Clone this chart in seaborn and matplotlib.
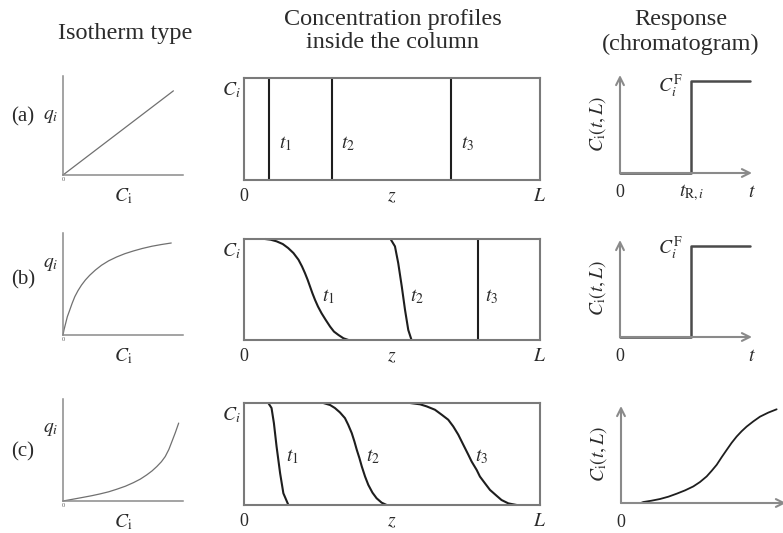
import numpy as np
import pandas as pd
import matplotlib
matplotlib.use("Agg")
import matplotlib.pyplot as plt
import seaborn as sns

# ---- isotherm curves: (C_i, q_i) -------------------------------------------
iso_linear_c = [0.0, 0.92]
iso_linear_q = [0.0, 0.85]
iso_langmuir_c = [0.0, 0.008, 0.022, 0.036, 0.056, 0.076, 0.098, 0.125, 0.154, 0.187, 0.223,
                  0.270, 0.321, 0.380, 0.447, 0.515, 0.587, 0.660, 0.740, 0.820, 0.902]
iso_langmuir_q = [0.0, 0.049, 0.114, 0.179, 0.244, 0.310, 0.375, 0.435, 0.489, 0.540, 0.586,
                  0.637, 0.684, 0.727, 0.765, 0.797, 0.824, 0.848, 0.870, 0.887, 0.902]
iso_anti_c = [0.0, 0.080, 0.168, 0.240, 0.307, 0.380, 0.447, 0.520, 0.587, 0.645, 0.698,
              0.742, 0.782, 0.820, 0.852, 0.882, 0.908, 0.936, 0.964]
iso_anti_q = [0.0, 0.017, 0.036, 0.052, 0.069, 0.090, 0.115, 0.145, 0.180, 0.215, 0.256,
              0.295, 0.338, 0.385, 0.436, 0.505, 0.584, 0.670, 0.764]

# ---- concentration profiles inside the column: (z/L, C_i) -------------------
# (a) linear isotherm: sharp fronts
prof_a_z = [[0.084, 0.084], [0.297, 0.297], [0.699, 0.699]]
prof_a_c = [[0.0, 1.0], [0.0, 1.0], [0.0, 1.0]]
# (b) favourable isotherm: self-sharpening front
prof_b_z = [
    [0.071, 0.090, 0.110, 0.131, 0.149, 0.167, 0.184, 0.196, 0.206, 0.215, 0.223, 0.231,
     0.240, 0.250, 0.262, 0.276, 0.291, 0.304, 0.319, 0.336, 0.353],
    [0.495, 0.510, 0.521, 0.533, 0.544, 0.555, 0.566],
    [0.792, 0.792],
]
prof_b_c = [
    [1.0, 0.993, 0.977, 0.950, 0.911, 0.861, 0.795, 0.728, 0.662, 0.596, 0.530, 0.464,
     0.397, 0.331, 0.265, 0.199, 0.132, 0.083, 0.050, 0.017, 0.0],
    [1.0, 0.927, 0.762, 0.530, 0.298, 0.099, 0.0],
    [1.0, 0.0],
]
# (c) unfavourable isotherm: dispersive front
prof_c_z = [
    [0.082, 0.093, 0.101, 0.110, 0.122, 0.133, 0.150],
    [0.268, 0.291, 0.307, 0.324, 0.341, 0.352, 0.364, 0.373, 0.381, 0.390, 0.398, 0.409,
     0.420, 0.434, 0.448, 0.465, 0.482],
    [0.561, 0.595, 0.617, 0.645, 0.668, 0.690, 0.707, 0.724, 0.741, 0.758, 0.769, 0.786,
     0.797, 0.814, 0.831, 0.854, 0.870, 0.893, 0.921],
]
prof_c_c = [
    [1.0, 0.951, 0.803, 0.574, 0.311, 0.115, 0.0],
    [1.0, 0.980, 0.951, 0.908, 0.852, 0.787, 0.705, 0.623, 0.541, 0.459, 0.377, 0.279,
     0.197, 0.121, 0.066, 0.023, 0.0],
    [1.0, 0.987, 0.967, 0.934, 0.885, 0.836, 0.770, 0.689, 0.590, 0.492, 0.426, 0.344,
     0.279, 0.213, 0.148, 0.089, 0.049, 0.016, 0.0],
]
time_labels = [r"$t_1$", r"$t_2$", r"$t_3$"]

# ---- responses at the column outlet: (t, C_i(t, L)) -------------------------
resp_step_t = [0.0, 0.54, 0.54, 0.985]
resp_step_c = [0.0, 0.0, 0.94, 0.94]
resp_disp_t = [0.15, 0.169, 0.232, 0.295, 0.359, 0.422, 0.485, 0.548, 0.598, 0.649, 0.687,
               0.725, 0.763, 0.801, 0.838, 0.876, 0.914, 0.952, 1.003, 1.053, 1.116, 1.179]
resp_disp_c = [0.0, 0.010, 0.024, 0.041, 0.065, 0.096, 0.130, 0.171, 0.216, 0.274, 0.332,
               0.394, 0.473, 0.548, 0.620, 0.685, 0.740, 0.788, 0.842, 0.890, 0.932, 0.966]

row_tags = ["(a)", "(b)", "(c)"]
col_titles = ["Isotherm type", "Concentration profiles\ninside the column", "Response\n(chromatogram)"]

# ---- style ------------------------------------------------------------------
sns.set_style("white")
plt.rcParams["font.family"] = ["Liberation Serif", "DejaVu Serif"]
plt.rcParams["mathtext.fontset"] = "stix"
plt.rcParams["lines.solid_joinstyle"] = "round"
plt.rcParams["lines.solid_capstyle"] = "round"

W, H = 783, 533
fig = plt.figure(figsize=(W / 100, H / 100), dpi=100)
fig.patch.set_facecolor("white")

TXT = "#2b2b2b"
AX_GREY = "#8a8a8a"
BOX_GREY = "#7a7a7a"
CURVE_DARK = "#1e1e1e"


def px_axes(x0, y0, x1, y1):
    """Axes from pixel box (left, top, right, bottom)."""
    return fig.add_axes([x0 / W, 1 - y1 / H, (x1 - x0) / W, (y1 - y0) / H])


def line(ax, xs, ys, color, lw):
    df = pd.DataFrame({"x": xs, "y": ys})
    sns.lineplot(data=df, x="x", y="y", ax=ax, sort=False, estimator=None,
                 color=color, linewidth=lw, clip_on=False)


def strip(ax):
    ax.set_xlabel("")
    ax.set_ylabel("")
    ax.set_xticks([])
    ax.set_yticks([])
    ax.patch.set_alpha(0)


def below(ax, x, s, dy=-12, size=12):
    ax.annotate(s, xy=(x, 0), xytext=(0, dy), textcoords="offset points",
                ha="center", va="center", fontsize=size, color=TXT)


# column titles
fig.text(125 / W, 1 - 33 / H, col_titles[0], ha="center", va="center", fontsize=17.5, color=TXT)
fig.text(393 / W, 1 - 31 / H, col_titles[1], ha="center", va="center", fontsize=17.5,
         color=TXT, linespacing=1.12)
fig.text(681 / W, 1 - 32 / H, col_titles[2], ha="center", va="center", fontsize=17.5,
         color=TXT, linespacing=1.18)

# row geometry (pixels)
left_rows = [(76, 175), (233, 335), (399, 501)]
mid_rows = [(78, 180), (239, 340), (403, 505)]
right_rows = [(75, 173), (240, 337), (406, 503)]
tag_y = [117, 280, 452]
q_label_y = [0.59, 0.69, 0.70]

iso_c = [iso_linear_c, iso_langmuir_c, iso_anti_c]
iso_q = [iso_linear_q, iso_langmuir_q, iso_anti_q]
prof_z = [prof_a_z, prof_b_z, prof_c_z]
prof_c = [prof_a_c, prof_b_c, prof_c_c]
label_pos = [
    [(0.139, 0.36), (0.351, 0.36), (0.757, 0.36)],
    [(0.284, 0.43), (0.584, 0.43), (0.838, 0.43)],
    [(0.162, 0.47), (0.436, 0.47), (0.804, 0.47)],
]

for r in range(3):
    fig.text(23 / W, 1 - tag_y[r] / H, row_tags[r], ha="center", va="center",
             fontsize=15, color=TXT)

    # --- isotherm panel ---
    top, bot = left_rows[r]
    ax = px_axes(63, top, 183, bot)
    line(ax, iso_c[r], iso_q[r], "#707070", 0.9)
    ax.set_xlim(0, 1)
    ax.set_ylim(0, 1)
    strip(ax)
    for s in ["top", "right"]:
        ax.spines[s].set_visible(False)
    for s in ["left", "bottom"]:
        ax.spines[s].set_color(AX_GREY)
        ax.spines[s].set_linewidth(1.1)
    ax.annotate(r"$q_i$", xy=(0, q_label_y[r]), xytext=(-9, 0), textcoords="offset points",
                ha="center", va="center", fontsize=14, color=TXT)
    below(ax, 0.5, r"$C_\mathrm{i}$", dy=-15, size=14)
    ax.annotate("0", xy=(0, 0), xytext=(0, -3), textcoords="offset points",
                ha="center", va="center", fontsize=4.5, color="#555555")

    # --- column profile panel ---
    top, bot = mid_rows[r]
    ax = px_axes(244, top, 540, bot)
    for k in range(3):
        line(ax, prof_z[r][k], prof_c[r][k], CURVE_DARK, 1.5)
        lx, ly = label_pos[r][k]
        ax.text(lx, ly, time_labels[k], ha="center", va="center", fontsize=14, color=TXT)
    ax.set_xlim(0, 1)
    ax.set_ylim(0, 1)
    strip(ax)
    for s in ax.spines.values():
        s.set_visible(True)
        s.set_color(BOX_GREY)
        s.set_linewidth(1.5)
    ax.annotate(r"$C_i$", xy=(0, 1), xytext=(-9, -9), textcoords="offset points",
                ha="center", va="center", fontsize=14, color=TXT)
    below(ax, 0.0, "0", dy=-12, size=13)
    below(ax, 0.5, r"$z$", dy=-12, size=14)
    below(ax, 1.0, r"$L$", dy=-12, size=14)

    # --- outlet response panel ---
    top, bot = right_rows[r]
    x0 = 621 if r == 2 else 620
    ax = px_axes(x0, top, x0 + 132, bot)
    ax.set_xlim(0, 1)
    ax.set_ylim(0, 1)
    strip(ax)
    for s in ax.spines.values():
        s.set_visible(False)
    x_end = 1.25 if r == 2 else 1.0
    arrow = dict(arrowstyle="->", color=AX_GREY, lw=1.5, shrinkA=0, shrinkB=0,
                 mutation_scale=14)
    ax.annotate("", xy=(x_end, 0), xytext=(0, 0), arrowprops=arrow, annotation_clip=False)
    ax.annotate("", xy=(0, 1), xytext=(0, 0), arrowprops=arrow, annotation_clip=False)
    if r < 2:
        line(ax, resp_step_t, resp_step_c, "#4a4a4a", 1.8)
        ax.annotate(r"$C_i^{\mathrm{F}}$", xy=(resp_step_t[1], resp_step_c[2]),
                    xytext=(-6, -4 if r == 0 else -2), textcoords="offset points",
                    ha="right", va="center", fontsize=14, color=TXT)
        below(ax, 0.0, "0", dy=-14, size=13)
        below(ax, 1.0, r"$t$", dy=-14, size=14)
        if r == 0:
            below(ax, resp_step_t[1], r"$t_{\mathrm{R},i}$", dy=-14, size=14)
    else:
        line(ax, resp_disp_t, resp_disp_c, CURVE_DARK, 1.3)
        below(ax, 0.0, "0", dy=-14, size=13)
        below(ax, 1.22, r"$t$", dy=-14, size=14)
    ax.annotate(r"$C_\mathrm{i}(t,L)$", xy=(0, 0.5), xytext=(-16, 0),
                textcoords="offset points", ha="center", va="center",
                rotation=90, fontsize=14, color=TXT)

fig.savefig("out.png", dpi=100, facecolor="white")
